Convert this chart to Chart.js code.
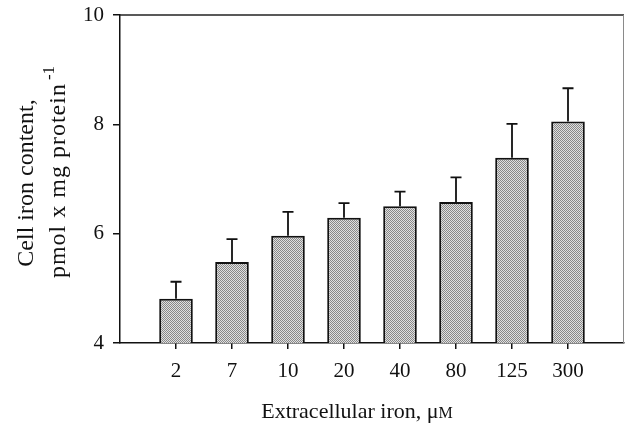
<!DOCTYPE html>
<html><head><meta charset="utf-8">
<script src="https://cdn.jsdelivr.net/npm/chart.js@4"></script>
<style>html,body{margin:0;padding:0;background:#fff;} canvas{display:block;}</style>
</head><body>
<canvas id="c" width="625" height="429"></canvas>
<script>
// ---- data ----
const categories = ['2', '7', '10', '20', '40', '80', '125', '300'];
const cellIron = [4.81, 5.48, 5.96, 6.29, 6.50, 6.58, 7.39, 8.05];
const errorUp = [0.31, 0.42, 0.44, 0.27, 0.27, 0.45, 0.62, 0.61];
const yTicks = [4, 6, 8, 10];
const xTitleMain = 'Extracellular iron, μ';
const xTitleUnit = 'M';
const yTitleLine1 = 'Cell iron content,';
const yTitleLine2 = 'pmol x mg protein';
const yTitleSup = '-1';

// ---- build ----
const FONT = "'Liberation Serif', 'Times New Roman', serif";
const labels = ['', ...categories, ''];
const values = [null, ...cellIron, null];
const errs = [null, ...errorUp, null];

const canvas = document.getElementById('c');
const ctx = canvas.getContext('2d');
const pc = document.createElement('canvas');
pc.width = 2; pc.height = 2;
const pctx = pc.getContext('2d');
pctx.fillStyle = '#e0e0e0'; pctx.fillRect(0, 0, 2, 2);
pctx.fillStyle = '#888888'; pctx.fillRect(0, 0, 1, 1); pctx.fillRect(1, 1, 1, 1);
const pattern = ctx.createPattern(pc, 'repeat');

const decor = {
  id: 'decor',
  afterDatasetsDraw(chart) {
    const c = chart.ctx;
    const y = chart.scales.y;
    const meta = chart.getDatasetMeta(0);
    c.save();
    c.strokeStyle = '#111';
    c.lineWidth = 1.8;
    meta.data.forEach((bar, i) => {
      if (values[i] == null) return;
      const top = y.getPixelForValue(values[i] + errs[i]);
      c.beginPath();
      c.moveTo(bar.x, bar.y);
      c.lineTo(bar.x, top);
      c.moveTo(bar.x - 5.5, top);
      c.lineTo(bar.x + 5.5, top);
      c.stroke();
    });
    c.restore();
  },
  afterDraw(chart) {
    const c = chart.ctx;
    const a = chart.chartArea;
    c.save();
    // frame: top and right
    c.strokeStyle = '#222';
    c.lineWidth = 1.5;
    c.beginPath();
    c.moveTo(a.left, a.top);
    c.lineTo(a.right, a.top);
    c.stroke();
    c.strokeStyle = '#8a8a8a';
    c.lineWidth = 1;
    c.beginPath();
    c.moveTo(a.right - 0.5, a.top);
    c.lineTo(a.right - 0.5, a.bottom);
    c.stroke();

    c.fillStyle = '#111';
    // x title
    c.font = '22px ' + FONT;
    const w1 = c.measureText(xTitleMain).width;
    c.font = '16px ' + FONT;
    const w2 = c.measureText(xTitleUnit).width;
    const cx = 357;
    const x0 = cx - (w1 + w2) / 2;
    c.textBaseline = 'alphabetic';
    c.textAlign = 'left';
    c.font = '22px ' + FONT;
    c.fillText(xTitleMain, x0, 418);
    c.font = '16px ' + FONT;
    c.fillText(xTitleUnit, x0 + w1, 418);

    // y title
    c.save();
    c.translate(33, 183);
    c.rotate(-Math.PI / 2);
    c.font = '24px ' + FONT;
    c.textAlign = 'center';
    c.fillText(yTitleLine1, 0, 0);
    c.restore();

    c.save();
    c.translate(65, 171);
    c.rotate(-Math.PI / 2);
    if ('letterSpacing' in c) c.letterSpacing = '1px';
    c.font = '24px ' + FONT;
    const m1 = c.measureText(yTitleLine2).width;
    c.font = '17px ' + FONT;
    const m2 = c.measureText(yTitleSup).width;
    const s = -(m1 + 3 + m2) / 2;
    c.textAlign = 'left';
    c.font = '24px ' + FONT;
    c.fillText(yTitleLine2, s, 0);
    if ('letterSpacing' in c) c.letterSpacing = '0px';
    c.font = '17px ' + FONT;
    c.fillText(yTitleSup, s + m1 + 3, -11);
    c.restore();
    c.restore();
  }
};

new Chart(ctx, {
  type: 'bar',
  data: {
    labels: labels,
    datasets: [{
      data: values,
      backgroundColor: pattern,
      borderColor: '#111',
      borderWidth: 2,
      borderSkipped: false,
      barPercentage: 0.6,
      categoryPercentage: 1
    }]
  },
  options: {
    responsive: false,
    animation: false,
    devicePixelRatio: 1,
    layout: { padding: { left: 0, right: 1, top: 15, bottom: 0 } },
    plugins: { legend: { display: false }, tooltip: { enabled: false } },
    scales: {
      x: {
        offset: false,
        grid: {
          offset: false,
          drawOnChartArea: false,
          drawTicks: true,
          tickLength: 6,
          lineWidth: 1.5,
          tickColor: (c) => (c.index === 0 || c.index === labels.length - 1) ? 'rgba(0,0,0,0)' : '#111'
        },
        border: { display: true, color: '#111', width: 1.5 },
        ticks: { font: { family: FONT, size: 21 }, color: '#111', padding: 10, maxRotation: 0, autoSkip: false },
        afterFit: (s) => { s.height = 86; s.paddingLeft = 0; s.paddingRight = 0; }
      },
      y: {
        min: 4, max: 10,
        afterBuildTicks: (s) => { s.ticks = yTicks.map(v => ({ value: v })); },
        grid: { drawOnChartArea: false, tickLength: 7, lineWidth: 1.5, tickColor: '#111' },
        border: { display: true, color: '#111', width: 1.5 },
        ticks: { font: { family: FONT, size: 21 }, color: '#111', padding: 9 },
        afterFit: (s) => { s.width = 120; s.paddingTop = 0; s.paddingBottom = 0; }
      }
    }
  },
  plugins: [decor]
});
</script>
</body></html>
